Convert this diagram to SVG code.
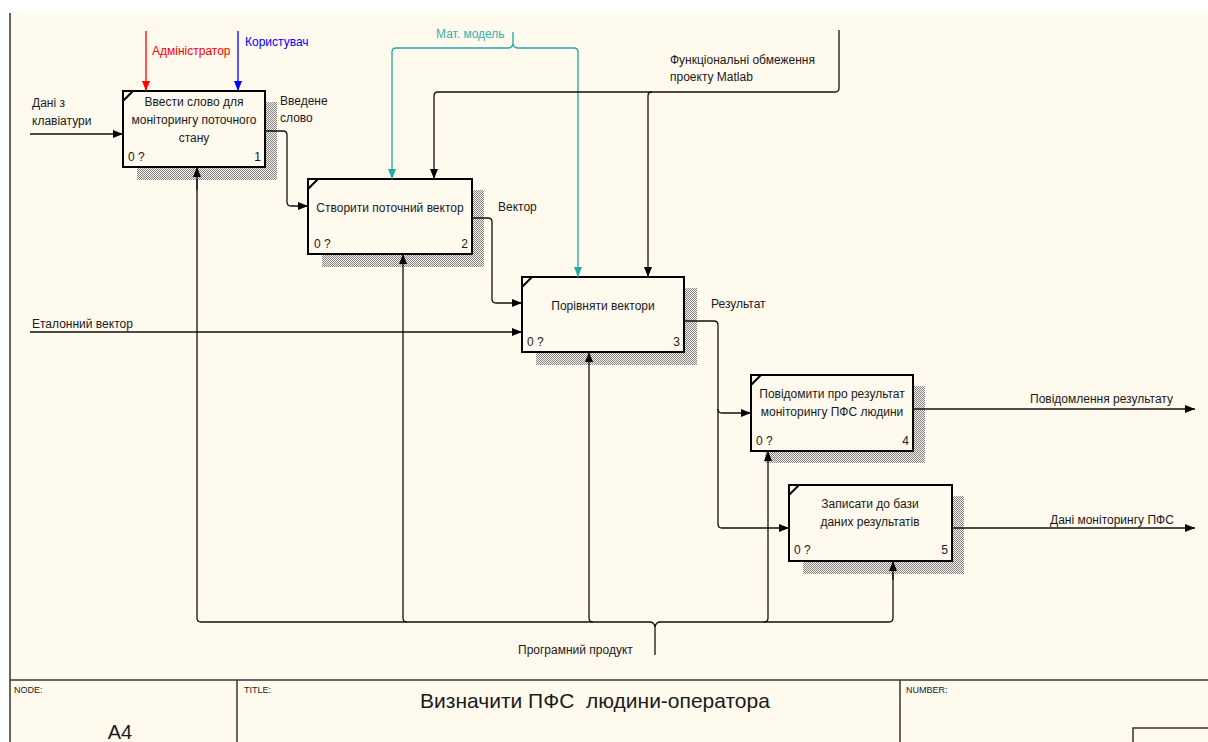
<svg xmlns="http://www.w3.org/2000/svg" width="1208" height="742" viewBox="0 0 1208 742">
  <defs>
    <pattern id="hatch" width="2" height="2" patternUnits="userSpaceOnUse">
      <rect width="2" height="2" fill="#f6f2e8"/>
      <rect width="1" height="1" fill="#858585"/>
      <rect x="1" y="1" width="1" height="1" fill="#858585"/>
    </pattern>
    <marker id="ah" markerWidth="10" markerHeight="8" refX="10" refY="4" orient="auto" markerUnits="userSpaceOnUse">
      <path d="M0,0 L10,4 L0,8 z" fill="#000"/>
    </marker>
    <marker id="ahRed" markerWidth="10" markerHeight="8" refX="10" refY="4" orient="auto" markerUnits="userSpaceOnUse">
      <path d="M0,0 L10,4 L0,8 z" fill="#ff0000"/>
    </marker>
    <marker id="ahBlue" markerWidth="10" markerHeight="8" refX="10" refY="4" orient="auto" markerUnits="userSpaceOnUse">
      <path d="M0,0 L10,4 L0,8 z" fill="#0000ff"/>
    </marker>
    <marker id="ahTeal" markerWidth="10" markerHeight="8" refX="10" refY="4" orient="auto" markerUnits="userSpaceOnUse">
      <path d="M0,0 L10,4 L0,8 z" fill="#23a8a8"/>
    </marker>
  </defs>
  <style>
    text { font-family: "Liberation Sans", Arial, sans-serif; font-size: 12px; fill: #1a1a1a; }
    .box { fill: #fff9ee; stroke: #000; stroke-width: 2; }
    .shadow { fill: url(#hatch); }
    .corner { stroke: #000; stroke-width: 2; }
    .mid { text-anchor: middle; }
    .num { text-anchor: end; }
    .wire { fill: none; stroke: #111; stroke-width: 1.3; }
    .arr { marker-end: url(#ah); }
    .teal { stroke: #23a8a8; }
    .frame { fill: none; stroke: #333; stroke-width: 1.5; }
    .small { font-size: 9px; }
  </style>

  <!-- sheet -->
  <rect x="0" y="0" width="1208" height="742" fill="#ffffff"/>
  <rect x="10" y="13" width="1198" height="729" fill="#fff9ee"/>
  <g id="frame">
    <line class="frame" x1="10" y1="13" x2="10" y2="742"/>
    <line class="frame" x1="10" y1="680" x2="1208" y2="680"/>
    <line class="frame" x1="237" y1="680" x2="237" y2="742"/>
    <line class="frame" x1="900" y1="680" x2="900" y2="742"/>
    <rect class="frame" x="1133" y="728" width="80" height="20"/>
    <text class="small" x="14" y="693">NODE:</text>
    <text x="120" y="739" class="mid" style="font-size:20px">A4</text>
    <text class="small" x="244" y="693">TITLE:</text>
    <text x="595" y="708" class="mid" style="font-size:21px; white-space:pre">Визначити ПФС  людини-оператора</text>
    <text class="small" x="906" y="693">NUMBER:</text>
  </g>

  <!-- activity 1 -->
  <g id="node1">
    <path class="shadow" d="M265,102 H277 V180 H137 V167 H265 Z"/>
    <rect class="box" x="123" y="91" width="142" height="76"/>
    <line class="corner" x1="123" y1="101" x2="133" y2="91"/>
    <text class="mid" x="194" y="106">Ввести слово для</text>
    <text class="mid" x="194" y="124">моніторингу поточного</text>
    <text class="mid" x="194" y="142">стану</text>
    <text x="128" y="161">0 ?</text>
    <text class="num" x="261" y="161">1</text>
  </g>

  <!-- activity 2 -->
  <g id="node2">
    <path class="shadow" d="M472,190 H484 V267 H322 V254 H472 Z"/>
    <rect class="box" x="308" y="179" width="164" height="75"/>
    <line class="corner" x1="308" y1="189" x2="318" y2="179"/>
    <text class="mid" x="390" y="212">Створити поточний вектор</text>
    <text x="314" y="248">0 ?</text>
    <text class="num" x="468" y="248">2</text>
  </g>

  <!-- activity 3 -->
  <g id="node3">
    <path class="shadow" d="M684,288 H697 V365 H536 V352 H684 Z"/>
    <rect class="box" x="522" y="277" width="162" height="75"/>
    <line class="corner" x1="522" y1="287" x2="532" y2="277"/>
    <text class="mid" x="603" y="310">Порівняти вектори</text>
    <text x="527" y="346">0 ?</text>
    <text class="num" x="680" y="346">3</text>
  </g>

  <!-- activity 4 -->
  <g id="node4">
    <path class="shadow" d="M913,386 H925 V463 H765 V451 H913 Z"/>
    <rect class="box" x="751" y="375" width="162" height="76"/>
    <line class="corner" x1="751" y1="385" x2="761" y2="375"/>
    <text class="mid" x="832" y="398">Повідомити про результат</text>
    <text class="mid" x="832" y="416">моніторингу ПФС людини</text>
    <text x="756" y="445">0 ?</text>
    <text class="num" x="909" y="445">4</text>
  </g>

  <!-- activity 5 -->
  <g id="node5">
    <path class="shadow" d="M952,496 H964 V574 H803 V561 H952 Z"/>
    <rect class="box" x="789" y="485" width="163" height="76"/>
    <line class="corner" x1="789" y1="495" x2="799" y2="485"/>
    <text class="mid" x="870" y="508">Записати до бази</text>
    <text class="mid" x="870" y="526">даних результатів</text>
    <text x="794" y="554">0 ?</text>
    <text class="num" x="948" y="554">5</text>
  </g>

  <!-- connectors (drawn over the box shadows) -->
  <g id="connectors">
    <!-- inputs -->
    <path class="wire arr" d="M30,134 H123"/>
    <path class="wire arr" d="M30,332 H522"/>
    <!-- controls on activity 1 -->
    <path class="wire" d="M146,31 V91" style="stroke:#ff0000" marker-end="url(#ahRed)"/>
    <path class="wire" d="M238,31 V91" style="stroke:#0000ff" marker-end="url(#ahBlue)"/>
    <!-- Мат. модель -->
    <path class="wire teal" d="M513,32 V44 Q512,48 508,48 H396 Q392,48 392,52 V179" marker-end="url(#ahTeal)"/>
    <path class="wire teal" d="M513,44 Q514,48 518,48 H574 Q578,48 578,52 V277" marker-end="url(#ahTeal)"/>
    <!-- Функціональні обмеження -->
    <path class="wire arr" d="M839,30 V88 Q839,92 835,92 H438 Q434,92 434,96 V179"/>
    <path class="wire arr" d="M652,92 Q648,92 648,96 V277"/>
    <!-- outputs between activities -->
    <path class="wire arr" d="M265,131 H283 Q287,131 287,135 V202 Q287,206 291,206 H308"/>
    <path class="wire arr" d="M472,218 H488 Q492,218 492,222 V299 Q492,303 496,303 H522"/>
    <path class="wire arr" d="M684,321 H714 Q718,321 718,325 V409 Q718,413 722,413 H751"/>
    <path class="wire arr" d="M718,409 V524 Q718,528 722,528 H789"/>
    <!-- final outputs -->
    <path class="wire arr" d="M913,409 H1195"/>
    <path class="wire arr" d="M952,528 H1195"/>
    <!-- Програмний продукт -->
    <path class="wire" d="M655,655 V627 Q654,622 650,622 H201 Q197,622 197,618 V179"/>
    <path class="wire" d="M655,627 Q656,622 660,622 H889 Q893,622 893,618 V573"/>
    <path class="wire arr" d="M197,190 V167"/>
    <path class="wire arr" d="M407,622 Q403,622 403,618 V254"/>
    <path class="wire arr" d="M593,622 Q589,622 589,618 V352"/>
    <path class="wire arr" d="M764,622 Q768,622 768,618 V451"/>
    <path class="wire arr" d="M893,580 V561"/>
  </g>

  <!-- connector labels -->
  <g id="labels">
    <text x="32" y="107">Дані з</text>
    <text x="32" y="125">клавіатури</text>
    <text x="152" y="55" style="fill:#ff0000">Адміністратор</text>
    <text x="245" y="46" style="fill:#0000ff">Користувач</text>
    <text x="280" y="105">Введене</text>
    <text x="280" y="122">слово</text>
    <text x="436" y="38" style="fill:#33b0b0">Мат. модель</text>
    <text x="670" y="64">Функціональні обмеження</text>
    <text x="670" y="81">проекту Matlab</text>
    <text x="498" y="211">Вектор</text>
    <text x="32" y="328">Еталонний вектор</text>
    <text x="711" y="308">Результат</text>
    <text x="1030" y="403">Повідомлення результату</text>
    <text x="1050" y="524">Дані моніторингу ПФС</text>
    <text x="518" y="654">Програмний продукт</text>
  </g>
</svg>
